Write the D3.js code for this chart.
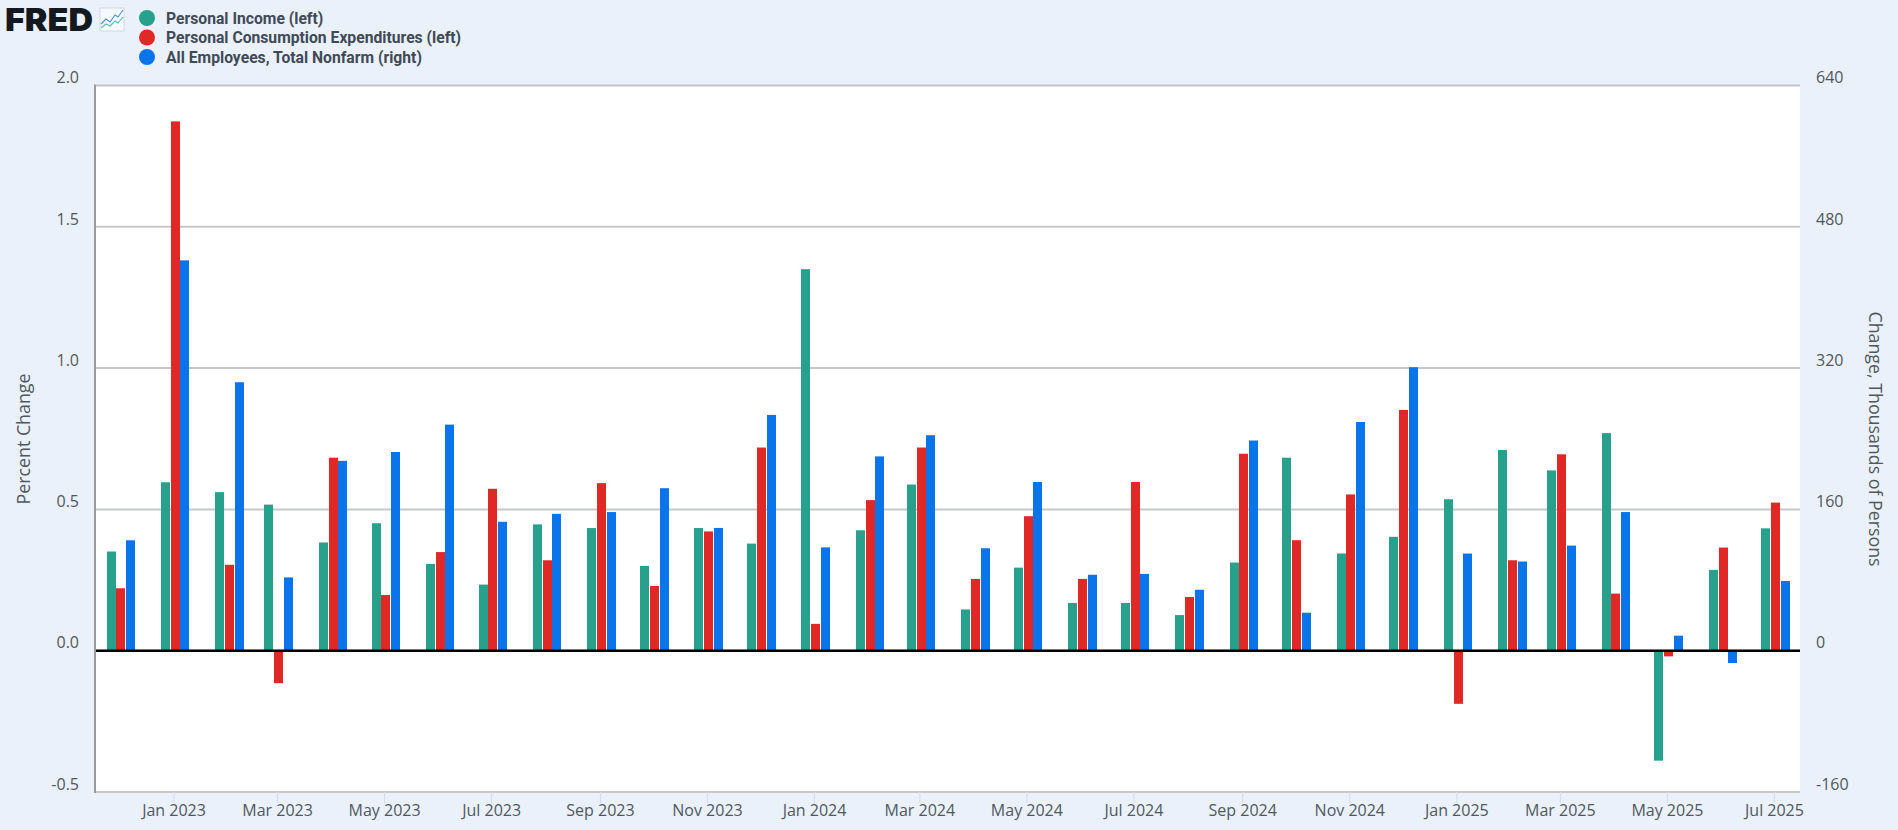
<!DOCTYPE html>
<html>
<head>
<meta charset="utf-8">
<title>FRED: income, spending and payrolls</title>
<script src="https://cdn.jsdelivr.net/npm/d3@7/dist/d3.min.js"></script>
<style>
  html, body { margin: 0; padding: 0; background: #eaf1fa; overflow: hidden; }
  svg { display: block; }
  text { font-family: "Open Sans", sans-serif; fill: #50585f; }
  .legend text { font-family: Roboto, sans-serif; font-weight: 700; font-size: 15.7px; fill: #3f4a56; }
  .axis .domain { display: none; }
</style>
</head>
<body>
<svg id="chart" width="1898" height="830"></svg>
<script>
// Monthly observations, December 2022 to July 2025
const months = ["2022-12","2023-01","2023-02","2023-03","2023-04","2023-05","2023-06","2023-07","2023-08","2023-09","2023-10","2023-11","2023-12","2024-01","2024-02","2024-03","2024-04","2024-05","2024-06","2024-07","2024-08","2024-09","2024-10","2024-11","2024-12","2025-01","2025-02","2025-03","2025-04","2025-05","2025-06","2025-07"];

// Percent change from previous month
const personalIncome = [0.351,0.596,0.561,0.517,0.383,0.451,0.307,0.234,0.447,0.434,0.300,0.434,0.379,1.350,0.426,0.588,0.146,0.294,0.169,0.169,0.126,0.312,0.683,0.344,0.403,0.536,0.710,0.638,0.770,-0.389,0.286,0.433];
const personalConsumption = [0.221,1.873,0.304,-0.115,0.683,0.197,0.349,0.573,0.320,0.593,0.229,0.422,0.719,0.095,0.533,0.719,0.254,0.476,0.254,0.597,0.190,0.697,0.391,0.553,0.852,-0.188,0.320,0.695,0.202,-0.020,0.365,0.524];

// Change in thousands of persons
const totalNonfarm = [125,442,304,83,215,225,256,146,155,157,184,139,267,117,220,244,116,191,86,87,69,238,43,259,321,110,101,119,157,17,-14,79];

const seriesNames = ["Personal Income (left)", "Personal Consumption Expenditures (left)", "All Employees, Total Nonfarm (right)"];
const seriesColors = ["#27a08c", "#e02826", "#0a74ea"];

const leftTicks = [-0.5, 0, 0.5, 1, 1.5, 2];
const rightTicks = [-160, 0, 160, 320, 480, 640];
const dateTicks = ["2023-01","2023-03","2023-05","2023-07","2023-09","2023-11","2024-01","2024-03","2024-05","2024-07","2024-09","2024-11","2025-01","2025-03","2025-05","2025-07"];

const leftTitle = "Percent Change";
const rightTitle = "Change, Thousands of Persons";
const brandName = "FRED";

const plot = { left: 96, right: 1800, top: 85.5, bottom: 792 };
const barWidth = 9, barStep = 9.75, groupShift = 1.7;

const parseMonth = d3.utcParse("%Y-%m");
const svg = d3.select("#chart");

const x = d3.scaleUtc()
  .domain([new Date(Date.UTC(2022, 10, 17, 20)), new Date(Date.UTC(2025, 6, 15, 20))])
  .range([plot.left, plot.right]);
const yLeft = d3.scaleLinear().domain([-0.5, 2]).range([plot.bottom, plot.top]);
const yRight = d3.scaleLinear().domain([-160, 640]).range([plot.bottom, plot.top]);

// Plot background
svg.append("rect")
  .attr("x", plot.left).attr("y", plot.top)
  .attr("width", plot.right - plot.left).attr("height", plot.bottom - plot.top)
  .attr("fill", "#ffffff");

// Horizontal gridlines
svg.append("g").selectAll("line")
  .data(leftTicks)
  .join("line")
  .attr("x1", plot.left).attr("x2", plot.right)
  .attr("y1", d => yLeft(d)).attr("y2", d => yLeft(d))
  .attr("stroke", "#c6c7c8").attr("stroke-width", 2);

// Left value axis
const axisLeft = svg.append("g").attr("class", "axis")
  .attr("transform", `translate(${plot.left},0)`)
  .call(d3.axisLeft(yLeft).tickValues(leftTicks).tickSize(0).tickPadding(17).tickFormat(d => d.toFixed(1)));
axisLeft.selectAll("text").attr("font-size", 16).attr("dy", "-0.17em");

// Right value axis
const axisRight = svg.append("g").attr("class", "axis")
  .attr("transform", `translate(${plot.right},0)`)
  .call(d3.axisRight(yRight).tickValues(rightTicks).tickSize(0).tickPadding(16).tickFormat(d => String(d)));
axisRight.selectAll("text").attr("font-size", 16).attr("dy", "-0.17em");

// Time axis
const axisBottom = svg.append("g").attr("class", "axis")
  .attr("transform", `translate(0,${plot.bottom})`)
  .call(d3.axisBottom(x).tickValues(dateTicks.map(parseMonth)).tickSize(11).tickPadding(2).tickFormat(d3.utcFormat("%b %Y")));
axisBottom.selectAll("line").attr("stroke", "#d4dbe8");
axisBottom.selectAll("text").attr("font-size", 16);

// Grouped bars: the two left-axis series and the one right-axis series
const barSeries = [
  { values: personalIncome, scale: yLeft },
  { values: personalConsumption, scale: yLeft },
  { values: totalNonfarm, scale: yRight }
];
barSeries.forEach((s, i) => {
  const zero = s.scale(0);
  svg.append("g").attr("fill", seriesColors[i]).selectAll("rect")
    .data(s.values)
    .join("rect")
    .attr("x", (d, j) => Math.round(x(parseMonth(months[j])) + groupShift + (i - 1) * barStep - barWidth / 2))
    .attr("width", barWidth)
    .attr("y", d => Math.min(s.scale(d), zero))
    .attr("height", d => Math.abs(s.scale(d) - zero));
});

// Left edge and zero baseline sit above the bars
svg.append("line")
  .attr("x1", plot.left - 1).attr("x2", plot.left - 1)
  .attr("y1", plot.top - 1).attr("y2", plot.bottom + 1)
  .attr("stroke", "#999a9c").attr("stroke-width", 2);
svg.append("line")
  .attr("x1", plot.left).attr("x2", plot.right)
  .attr("y1", yLeft(0)).attr("y2", yLeft(0))
  .attr("stroke", "#000000").attr("stroke-width", 2.4);

// Axis titles
svg.append("text")
  .attr("transform", "translate(25,439) rotate(-90)")
  .attr("text-anchor", "middle").attr("dominant-baseline", "middle")
  .attr("font-size", 17.8).text(leftTitle);
svg.append("text")
  .attr("transform", "translate(1874,439) rotate(90)")
  .attr("text-anchor", "middle").attr("dominant-baseline", "middle")
  .attr("font-size", 17.8).text(rightTitle);

// Legend
const legend = svg.append("g").attr("class", "legend");
const legendRows = legend.selectAll("g")
  .data(seriesNames)
  .join("g")
  .attr("transform", (d, i) => `translate(147,${18 + i * 19.5})`);
legendRows.append("circle").attr("r", 8).attr("fill", (d, i) => seriesColors[i]);
legendRows.append("text").attr("x", 19).attr("dy", "0.36em").text(d => d);

// Brand mark
svg.append("text")
  .attr("x", 5).attr("y", 31)
  .attr("font-family", "Inter, sans-serif").attr("font-weight", 900).attr("font-size", 32)
  .attr("textLength", 88).attr("lengthAdjust", "spacingAndGlyphs")
  .style("font-family", "Inter, sans-serif").style("fill", "#14191f")
  .text(brandName);
const mark = svg.append("g").attr("transform", "translate(100,8)");
mark.append("rect").attr("width", 24).attr("height", 23).attr("fill", "#f6f9fc")
  .attr("stroke", "#c9d2da").attr("stroke-width", 0.8);
mark.append("path").attr("d", "M1 16L6 11L10 14L15 7L18 9L23 2")
  .attr("fill", "none").attr("stroke", "#4a90e2").attr("stroke-width", 1.1);
mark.append("path").attr("d", "M1 20L6 16L10 18L15 13L18 15L23 9")
  .attr("fill", "none").attr("stroke", "#55c0aa").attr("stroke-width", 1.1);
</script>
</body>
</html>
